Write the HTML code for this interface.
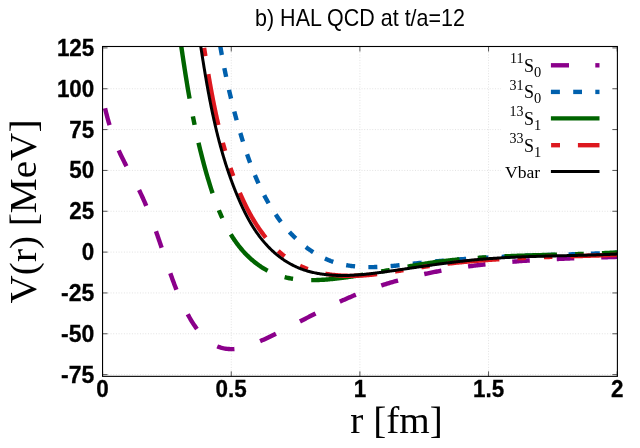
<!DOCTYPE html>
<html><head><meta charset="utf-8"><title>HAL QCD potentials</title>
<style>
html,body{margin:0;padding:0;background:#fff;}
body{width:640px;height:448px;overflow:hidden;font-family:"Liberation Sans",sans-serif;}
svg{display:block;will-change:transform;}
</style></head><body>
<svg width="640" height="448" viewBox="0 0 640 448">
<rect x="0" y="0" width="640" height="448" fill="#ffffff"/>
<defs><clipPath id="pc"><rect x="102.55" y="46.5" width="514.85" height="329.85"/></clipPath></defs>
<g stroke="#e2e2e2" stroke-width="1" stroke-dasharray="1,1.67">
<line x1="231.25" y1="46.5" x2="231.25" y2="376.35"/>
<line x1="359.9" y1="46.5" x2="359.9" y2="376.35"/>
<line x1="488.55000000000007" y1="46.5" x2="488.55000000000007" y2="376.35"/>
<line x1="102.55" y1="88.75" x2="617.4" y2="88.75"/>
<line x1="102.55" y1="129.58749999999998" x2="617.4" y2="129.58749999999998"/>
<line x1="102.55" y1="170.425" x2="617.4" y2="170.425"/>
<line x1="102.55" y1="211.2625" x2="617.4" y2="211.2625"/>
<line x1="102.55" y1="252.1" x2="617.4" y2="252.1"/>
<line x1="102.55" y1="292.9375" x2="617.4" y2="292.9375"/>
<line x1="102.55" y1="333.775" x2="617.4" y2="333.775"/>
<line x1="102.55" y1="374.6125" x2="617.4" y2="374.6125"/>
</g>
<g stroke="#555" stroke-width="1">
<line x1="102.6" y1="376.35" x2="102.6" y2="371.35"/>
<line x1="102.6" y1="46.5" x2="102.6" y2="51.5"/>
<line x1="231.25" y1="376.35" x2="231.25" y2="371.35"/>
<line x1="231.25" y1="46.5" x2="231.25" y2="51.5"/>
<line x1="359.9" y1="376.35" x2="359.9" y2="371.35"/>
<line x1="359.9" y1="46.5" x2="359.9" y2="51.5"/>
<line x1="488.55000000000007" y1="376.35" x2="488.55000000000007" y2="371.35"/>
<line x1="488.55000000000007" y1="46.5" x2="488.55000000000007" y2="51.5"/>
<line x1="617.2" y1="376.35" x2="617.2" y2="371.35"/>
<line x1="617.2" y1="46.5" x2="617.2" y2="51.5"/>
<line x1="102.55" y1="47.912499999999994" x2="107.55" y2="47.912499999999994"/>
<line x1="617.4" y1="47.912499999999994" x2="612.4" y2="47.912499999999994"/>
<line x1="102.55" y1="88.75" x2="107.55" y2="88.75"/>
<line x1="617.4" y1="88.75" x2="612.4" y2="88.75"/>
<line x1="102.55" y1="129.58749999999998" x2="107.55" y2="129.58749999999998"/>
<line x1="617.4" y1="129.58749999999998" x2="612.4" y2="129.58749999999998"/>
<line x1="102.55" y1="170.425" x2="107.55" y2="170.425"/>
<line x1="617.4" y1="170.425" x2="612.4" y2="170.425"/>
<line x1="102.55" y1="211.2625" x2="107.55" y2="211.2625"/>
<line x1="617.4" y1="211.2625" x2="612.4" y2="211.2625"/>
<line x1="102.55" y1="252.1" x2="107.55" y2="252.1"/>
<line x1="617.4" y1="252.1" x2="612.4" y2="252.1"/>
<line x1="102.55" y1="292.9375" x2="107.55" y2="292.9375"/>
<line x1="617.4" y1="292.9375" x2="612.4" y2="292.9375"/>
<line x1="102.55" y1="333.775" x2="107.55" y2="333.775"/>
<line x1="617.4" y1="333.775" x2="612.4" y2="333.775"/>
<line x1="102.55" y1="374.6125" x2="107.55" y2="374.6125"/>
<line x1="617.4" y1="374.6125" x2="612.4" y2="374.6125"/>
</g>
<g clip-path="url(#pc)" stroke-linecap="butt" stroke-linejoin="round">
<path d="M105.05,108.29 L105.32,109.39 L105.59,110.50 L105.86,111.60 L106.14,112.71 L106.42,113.81 L106.71,114.91 L106.99,116.02 L107.29,117.12 L107.58,118.22 L107.88,119.33 L108.19,120.43 L108.50,121.53 L108.81,122.63 L109.13,123.73 L109.46,124.83 L109.78,125.92 L110.12,127.02 L110.45,128.11 L110.80,129.21 L111.14,130.30 L111.50,131.39 L111.85,132.47 L112.22,133.56 L112.58,134.64 L112.96,135.73 L113.34,136.81 L113.72,137.88 L114.11,138.96 L114.51,140.03 L114.91,141.10 L115.32,142.17 L115.73,143.24 L116.15,144.30 L116.58,145.36 L117.01,146.41 L117.45,147.47 L117.90,148.52 L118.35,149.56 L118.81,150.60 L119.27,151.64 L119.74,152.68 L120.22,153.71 L120.70,154.74 L121.19,155.77 L121.69,156.79 L122.18,157.81 L122.69,158.83 L123.20,159.85 L123.71,160.86 L124.22,161.87 L124.74,162.88 L125.27,163.89 L125.79,164.90 L126.32,165.91 L126.85,166.91 L127.38,167.91 L127.92,168.92 L128.45,169.92 L128.99,170.92 L129.53,171.92 L130.07,172.92 L130.61,173.92 L131.15,174.92 L131.69,175.92 L132.23,176.92 L132.76,177.92 L133.30,178.92 L133.84,179.93 L134.37,180.93 L134.90,181.93 L135.43,182.94 L135.96,183.95 L136.48,184.96 L137.00,185.97 L137.52,186.98 L138.04,188.00 L138.55,189.01 L139.05,190.03 L139.55,191.05 L140.05,192.08 L140.54,193.11 L141.03,194.13 L141.52,195.17 L142.00,196.20 L142.47,197.24 L142.95,198.27 L143.41,199.31 L143.88,200.36 L144.34,201.40 L144.79,202.45 L145.25,203.50 L145.70,204.55 L146.14,205.60 L146.58,206.65 L147.02,207.71 L147.46,208.77 L147.89,209.82 L148.32,210.89 L148.75,211.95 L149.17,213.01 L149.59,214.08 L150.01,215.14 L150.42,216.21 L150.84,217.28 L151.25,218.35 L151.65,219.42 L152.06,220.49 L152.46,221.57 L152.86,222.64 L153.26,223.72 L153.65,224.79 L154.04,225.87 L154.43,226.95 L154.82,228.03 L155.21,229.11 L155.60,230.19 L155.98,231.27 L156.36,232.35 L156.74,233.43 L157.12,234.51 L157.50,235.59 L157.87,236.68 L158.25,237.76 L158.62,238.84 L158.99,239.93 L159.37,241.01 L159.74,242.09 L160.11,243.18 L160.47,244.26 L160.84,245.35 L161.21,246.43 L161.57,247.51 L161.94,248.60 L162.30,249.68 L162.67,250.76 L163.03,251.85 L163.40,252.93 L163.76,254.01 L164.13,255.09 L164.49,256.17 L164.85,257.25 L165.22,258.33 L165.58,259.41 L165.94,260.49 L166.31,261.56 L166.67,262.64 L167.04,263.71 L167.40,264.79 L167.77,265.86 L168.14,266.93 L168.51,268.00 L168.87,269.07 L169.24,270.14 L169.61,271.21 L169.99,272.27 L170.36,273.34 L170.73,274.40 L171.11,275.46 L171.49,276.52 L171.86,277.58 L172.24,278.64 L172.63,279.69 L173.01,280.75 L173.40,281.80 L173.79,282.86 L174.18,283.91 L174.58,284.96 L174.98,286.01 L175.38,287.06 L175.79,288.10 L176.20,289.15 L176.61,290.20 L177.03,291.24 L177.45,292.29 L177.88,293.33 L178.31,294.37 L178.75,295.41 L179.19,296.46 L179.63,297.50 L180.09,298.54 L180.54,299.58 L181.01,300.62 L181.48,301.66 L181.95,302.69 L182.43,303.73 L182.92,304.77 L183.42,305.81 L183.92,306.84 L184.43,307.88 L184.94,308.92 L185.47,309.95 L186.00,310.99 L186.54,312.03 L187.09,313.06 L187.64,314.10 L188.20,315.14 L188.78,316.17 L189.36,317.21 L189.95,318.24 L190.55,319.27 L191.15,320.29 L191.77,321.31 L192.40,322.32 L193.03,323.33 L193.68,324.33 L194.34,325.32 L195.01,326.31 L195.68,327.28 L196.37,328.24 L197.07,329.19 L197.78,330.13 L198.51,331.06 L199.24,331.97 L199.98,332.87 L200.74,333.75 L201.51,334.61 L202.29,335.46 L203.09,336.29 L203.89,337.10 L204.71,337.89 L205.54,338.67 L206.39,339.41 L207.25,340.14 L208.12,340.85 L209.01,341.53 L209.91,342.18 L210.82,342.81 L211.75,343.42 L212.69,343.99 L213.65,344.54 L214.62,345.06 L215.61,345.55 L216.61,346.01 L217.63,346.44 L218.66,346.84 L219.71,347.20 L220.77,347.53 L221.84,347.83 L222.93,348.10 L224.02,348.34 L225.12,348.54 L226.23,348.72 L227.35,348.86 L228.47,348.97 L229.60,349.05 L230.73,349.09 L231.86,349.11 L232.99,349.09 L234.12,349.04 L235.25,348.96 L236.38,348.84 L237.50,348.70 L238.63,348.53 L239.75,348.33 L240.87,348.11 L241.98,347.86 L243.09,347.59 L244.20,347.29 L245.31,346.98 L246.42,346.64 L247.52,346.29 L248.62,345.92 L249.71,345.53 L250.80,345.13 L251.89,344.71 L252.98,344.29 L254.06,343.85 L255.14,343.40 L256.21,342.95 L257.28,342.48 L258.35,342.02 L259.41,341.54 L260.47,341.07 L261.52,340.59 L262.57,340.11 L263.61,339.63 L264.66,339.14 L265.69,338.66 L266.73,338.17 L267.76,337.68 L268.79,337.19 L269.82,336.69 L270.85,336.20 L271.87,335.70 L272.90,335.20 L273.92,334.70 L274.94,334.20 L275.96,333.69 L276.98,333.19 L278.00,332.68 L279.02,332.17 L280.03,331.66 L281.05,331.15 L282.07,330.64 L283.08,330.13 L284.10,329.61 L285.12,329.10 L286.13,328.58 L287.15,328.06 L288.16,327.54 L289.18,327.02 L290.19,326.51 L291.21,325.98 L292.22,325.46 L293.23,324.94 L294.25,324.42 L295.26,323.90 L296.27,323.38 L297.29,322.85 L298.30,322.33 L299.32,321.81 L300.33,321.28 L301.34,320.76 L302.36,320.24 L303.37,319.71 L304.39,319.19 L305.40,318.67 L306.42,318.14 L307.43,317.62 L308.45,317.10 L309.46,316.58 L310.48,316.06 L311.49,315.54 L312.51,315.02 L313.53,314.50 L314.54,313.99 L315.56,313.47 L316.58,312.95 L317.60,312.44 L318.62,311.93 L319.63,311.41 L320.65,310.90 L321.68,310.39 L322.70,309.88 L323.72,309.38 L324.74,308.87 L325.76,308.37 L326.79,307.87 L327.81,307.37 L328.84,306.87 L329.86,306.37 L330.89,305.87 L331.92,305.38 L332.95,304.89 L333.98,304.40 L335.01,303.91 L336.04,303.43 L337.07,302.95 L338.10,302.47 L339.14,301.99 L340.17,301.51 L341.21,301.04 L342.25,300.57 L343.29,300.10 L344.33,299.64 L345.37,299.18 L346.41,298.72 L347.45,298.26 L348.50,297.81 L349.54,297.36 L350.59,296.91 L351.64,296.47 L352.69,296.03 L353.74,295.59 L354.79,295.15 L355.84,294.72 L356.90,294.30 L357.96,293.87 L359.01,293.45 L360.07,293.04 L361.13,292.62 L362.20,292.21 L363.26,291.81 L364.32,291.40 L365.39,291.00 L366.46,290.61 L367.53,290.21 L368.60,289.83 L369.67,289.44 L370.74,289.06 L371.82,288.68 L372.89,288.30 L373.97,287.93 L375.04,287.56 L376.12,287.19 L377.20,286.83 L378.28,286.47 L379.37,286.11 L380.45,285.76 L381.53,285.40 L382.62,285.06 L383.71,284.71 L384.79,284.37 L385.88,284.03 L386.97,283.70 L388.06,283.37 L389.15,283.04 L390.25,282.71 L391.34,282.39 L392.44,282.07 L393.53,281.75 L394.63,281.43 L395.73,281.12 L396.82,280.81 L397.92,280.51 L399.02,280.21 L400.12,279.91 L401.23,279.61 L402.33,279.32 L403.43,279.02 L404.54,278.74 L405.64,278.45 L406.75,278.17 L407.86,277.89 L408.96,277.61 L410.07,277.34 L411.18,277.06 L412.29,276.79 L413.40,276.53 L414.51,276.26 L415.62,276.00 L416.73,275.74 L417.85,275.49 L418.96,275.23 L420.07,274.98 L421.19,274.73 L422.30,274.49 L423.42,274.25 L424.54,274.00 L425.65,273.77 L426.77,273.53 L427.89,273.30 L429.01,273.07 L430.13,272.84 L431.25,272.61 L432.37,272.39 L433.49,272.17 L434.61,271.95 L435.73,271.73 L436.85,271.52 L437.97,271.31 L439.09,271.10 L440.21,270.89 L441.34,270.69 L442.46,270.48 L443.58,270.28 L444.71,270.08 L445.83,269.89 L446.96,269.69 L448.08,269.50 L449.20,269.31 L450.33,269.13 L451.46,268.94 L452.58,268.76 L453.71,268.58 L454.83,268.40 L455.96,268.22 L457.09,268.05 L458.21,267.88 L459.34,267.70 L460.47,267.54 L461.60,267.37 L462.72,267.20 L463.85,267.04 L464.98,266.88 L466.11,266.72 L467.24,266.57 L468.37,266.41 L469.50,266.26 L470.63,266.11 L471.76,265.96 L472.89,265.81 L474.02,265.67 L475.15,265.52 L476.28,265.38 L477.41,265.24 L478.54,265.10 L479.68,264.97 L480.81,264.83 L481.94,264.70 L483.07,264.57 L484.20,264.44 L485.34,264.31 L486.47,264.18 L487.60,264.06 L488.74,263.93 L489.87,263.81 L491.00,263.69 L492.14,263.58 L493.27,263.46 L494.41,263.34 L495.54,263.23 L496.67,263.12 L497.81,263.01 L498.94,262.90 L500.08,262.79 L501.21,262.69 L502.35,262.58 L503.49,262.48 L504.62,262.38 L505.76,262.28 L506.89,262.18 L508.03,262.08 L509.17,261.98 L510.30,261.89 L511.44,261.80 L512.58,261.70 L513.71,261.61 L514.85,261.52 L515.99,261.44 L517.12,261.35 L518.26,261.26 L519.40,261.18 L520.54,261.10 L521.68,261.01 L522.81,260.93 L523.95,260.85 L525.09,260.77 L526.23,260.70 L527.37,260.62 L528.50,260.55 L529.64,260.47 L530.78,260.40 L531.92,260.33 L533.06,260.26 L534.20,260.19 L535.34,260.12 L536.48,260.05 L537.62,259.98 L538.76,259.92 L539.89,259.85 L541.03,259.79 L542.17,259.73 L543.31,259.66 L544.45,259.60 L545.59,259.54 L546.73,259.48 L547.87,259.42 L549.01,259.37 L550.15,259.31 L551.29,259.25 L552.43,259.20 L553.57,259.14 L554.71,259.09 L555.85,259.04 L556.99,258.98 L558.13,258.93 L559.27,258.88 L560.41,258.83 L561.55,258.78 L562.69,258.73 L563.83,258.69 L564.97,258.64 L566.11,258.59 L567.25,258.54 L568.39,258.50 L569.53,258.45 L570.67,258.41 L571.81,258.36 L572.96,258.32 L574.10,258.28 L575.24,258.23 L576.38,258.19 L577.52,258.15 L578.66,258.11 L579.80,258.07 L580.94,258.03 L582.08,257.99 L583.22,257.95 L584.36,257.91 L585.50,257.87 L586.64,257.83 L587.78,257.79 L588.92,257.76 L590.06,257.72 L591.20,257.68 L592.34,257.64 L593.48,257.61 L594.62,257.57 L595.76,257.53 L596.89,257.50 L598.03,257.46 L599.17,257.43 L600.31,257.39 L601.45,257.35 L602.59,257.32 L603.73,257.28 L604.87,257.25 L606.01,257.21 L607.15,257.18 L608.29,257.14 L609.42,257.11 L610.56,257.07 L611.70,257.04 L612.84,257.00 L613.98,256.97 L615.12,256.93 L616.25,256.90 L617.39,256.86" fill="none" stroke="#8b008b" stroke-width="4.4" stroke-dasharray="17.5,27" stroke-dashoffset="0.11"/>
<path d="M217.58,29.81 L217.73,30.74 L217.87,31.68 L218.02,32.61 L218.17,33.54 L218.32,34.47 L218.47,35.39 L218.62,36.32 L218.77,37.25 L218.92,38.18 L219.07,39.10 L219.22,40.03 L219.38,40.95 L219.53,41.88 L219.69,42.80 L219.85,43.72 L220.00,44.64 L220.16,45.57 L220.32,46.49 L220.48,47.41 L220.64,48.33 L220.80,49.25 L220.97,50.16 L221.13,51.08 L221.29,52.00 L221.46,52.92 L221.62,53.83 L221.79,54.75 L221.96,55.66 L222.13,56.58 L222.30,57.49 L222.47,58.41 L222.64,59.32 L222.81,60.23 L222.98,61.14 L223.16,62.06 L223.33,62.97 L223.51,63.88 L223.69,64.79 L223.86,65.70 L224.04,66.61 L224.22,67.51 L224.40,68.42 L224.58,69.33 L224.77,70.24 L224.95,71.14 L225.14,72.05 L225.32,72.96 L225.51,73.86 L225.70,74.77 L225.88,75.67 L226.07,76.57 L226.26,77.48 L226.46,78.38 L226.65,79.28 L226.84,80.19 L227.04,81.09 L227.23,81.99 L227.43,82.89 L227.63,83.79 L227.83,84.69 L228.03,85.59 L228.23,86.49 L228.43,87.39 L228.63,88.29 L228.84,89.19 L229.04,90.09 L229.25,90.99 L229.46,91.89 L229.67,92.78 L229.88,93.68 L230.09,94.58 L230.30,95.47 L230.51,96.37 L230.73,97.27 L230.94,98.16 L231.16,99.06 L231.38,99.95 L231.60,100.85 L231.82,101.74 L232.04,102.64 L232.26,103.53 L232.48,104.42 L232.71,105.32 L232.94,106.21 L233.16,107.11 L233.39,108.00 L233.62,108.89 L233.85,109.78 L234.08,110.68 L234.32,111.57 L234.55,112.46 L234.79,113.35 L235.03,114.24 L235.26,115.14 L235.50,116.03 L235.74,116.92 L235.99,117.81 L236.23,118.70 L236.48,119.59 L236.72,120.48 L236.97,121.37 L237.22,122.26 L237.47,123.15 L237.72,124.04 L237.97,124.93 L238.22,125.82 L238.48,126.71 L238.74,127.60 L238.99,128.49 L239.25,129.38 L239.51,130.27 L239.78,131.16 L240.04,132.05 L240.30,132.94 L240.57,133.82 L240.84,134.71 L241.11,135.60 L241.38,136.49 L241.65,137.38 L241.92,138.27 L242.19,139.16 L242.47,140.05 L242.75,140.94 L243.03,141.82 L243.31,142.71 L243.59,143.60 L243.87,144.49 L244.15,145.38 L244.44,146.27 L244.73,147.16 L245.02,148.04 L245.31,148.93 L245.60,149.82 L245.90,150.71 L246.19,151.59 L246.49,152.48 L246.79,153.36 L247.09,154.25 L247.39,155.13 L247.70,156.02 L248.01,156.90 L248.32,157.79 L248.63,158.67 L248.94,159.55 L249.26,160.43 L249.57,161.31 L249.89,162.19 L250.21,163.07 L250.54,163.95 L250.86,164.83 L251.19,165.70 L251.52,166.58 L251.86,167.45 L252.19,168.32 L252.53,169.20 L252.87,170.07 L253.21,170.94 L253.56,171.81 L253.91,172.68 L254.26,173.54 L254.61,174.41 L254.96,175.27 L255.32,176.13 L255.68,177.00 L256.05,177.86 L256.41,178.71 L256.78,179.57 L257.15,180.43 L257.53,181.28 L257.90,182.13 L258.28,182.99 L258.67,183.84 L259.05,184.68 L259.44,185.53 L259.83,186.37 L260.23,187.22 L260.63,188.06 L261.03,188.90 L261.43,189.73 L261.84,190.57 L262.25,191.40 L262.67,192.23 L263.08,193.06 L263.50,193.89 L263.93,194.72 L264.35,195.54 L264.79,196.36 L265.22,197.18 L265.66,198.00 L266.10,198.81 L266.54,199.63 L266.99,200.44 L267.44,201.24 L267.90,202.05 L268.36,202.85 L268.82,203.65 L269.28,204.45 L269.75,205.25 L270.23,206.04 L270.71,206.83 L271.19,207.62 L271.67,208.41 L272.16,209.19 L272.65,209.97 L273.15,210.75 L273.65,211.52 L274.16,212.30 L274.67,213.06 L275.18,213.83 L275.70,214.59 L276.22,215.35 L276.74,216.11 L277.27,216.87 L277.81,217.62 L278.34,218.37 L278.89,219.11 L279.43,219.86 L279.98,220.59 L280.54,221.33 L281.10,222.06 L281.66,222.79 L282.23,223.52 L282.81,224.24 L283.38,224.96 L283.97,225.68 L284.55,226.39 L285.15,227.10 L285.74,227.81 L286.34,228.51 L286.95,229.21 L287.56,229.90 L288.17,230.59 L288.80,231.28 L289.42,231.97 L290.05,232.65 L290.68,233.32 L291.32,234.00 L291.97,234.66 L292.62,235.33 L293.27,235.99 L293.93,236.65 L294.59,237.30 L295.26,237.94 L295.94,238.58 L296.61,239.22 L297.29,239.85 L297.98,240.48 L298.67,241.10 L299.37,241.72 L300.07,242.33 L300.77,242.94 L301.48,243.54 L302.20,244.13 L302.92,244.72 L303.64,245.31 L304.37,245.89 L305.10,246.46 L305.83,247.02 L306.57,247.58 L307.32,248.14 L308.07,248.68 L308.82,249.22 L309.58,249.76 L310.34,250.28 L311.11,250.80 L311.88,251.31 L312.65,251.82 L313.43,252.32 L314.21,252.81 L315.00,253.29 L315.79,253.77 L316.58,254.24 L317.38,254.70 L318.19,255.16 L318.99,255.60 L319.80,256.04 L320.62,256.47 L321.44,256.89 L322.26,257.30 L323.09,257.71 L323.92,258.11 L324.75,258.49 L325.59,258.87 L326.44,259.24 L327.28,259.60 L328.13,259.96 L328.98,260.30 L329.84,260.63 L330.70,260.96 L331.57,261.27 L332.44,261.58 L333.31,261.88 L334.19,262.16 L335.06,262.44 L335.95,262.71 L336.83,262.97 L337.72,263.22 L338.61,263.46 L339.51,263.69 L340.41,263.92 L341.31,264.13 L342.21,264.34 L343.12,264.53 L344.03,264.72 L344.94,264.91 L345.85,265.08 L346.76,265.24 L347.68,265.40 L348.60,265.55 L349.52,265.69 L350.45,265.83 L351.37,265.96 L352.30,266.08 L353.22,266.19 L354.15,266.30 L355.08,266.40 L356.01,266.49 L356.95,266.57 L357.88,266.65 L358.81,266.72 L359.75,266.79 L360.68,266.85 L361.62,266.90 L362.56,266.95 L363.49,266.99 L364.43,267.03 L365.37,267.06 L366.31,267.08 L367.24,267.10 L368.18,267.12 L369.12,267.12 L370.06,267.13 L370.99,267.13 L371.93,267.12 L372.86,267.11 L373.80,267.09 L374.73,267.07 L375.66,267.04 L376.60,267.02 L377.53,266.98 L378.46,266.94 L379.39,266.90 L380.32,266.86 L381.25,266.81 L382.18,266.75 L383.11,266.70 L384.04,266.64 L384.97,266.57 L385.90,266.51 L386.83,266.44 L387.75,266.36 L388.68,266.29 L389.61,266.21 L390.53,266.13 L391.46,266.05 L392.39,265.96 L393.31,265.88 L394.24,265.79 L395.16,265.69 L396.09,265.60 L397.01,265.51 L397.93,265.41 L398.86,265.31 L399.78,265.21 L400.71,265.11 L401.63,265.01 L402.55,264.91 L403.47,264.80 L404.40,264.70 L405.32,264.59 L406.24,264.49 L407.17,264.38 L408.09,264.27 L409.01,264.17 L409.93,264.06 L410.85,263.95 L411.78,263.85 L412.70,263.74 L413.62,263.64 L414.54,263.53 L415.47,263.43 L416.39,263.32 L417.31,263.22 L418.23,263.12 L419.16,263.02 L420.08,262.92 L421.00,262.82 L421.92,262.72 L422.85,262.62 L423.77,262.52 L424.69,262.43 L425.61,262.33 L426.54,262.24 L427.46,262.14 L428.38,262.05 L429.31,261.96 L430.23,261.87 L431.15,261.78 L432.08,261.69 L433.00,261.60 L433.92,261.51 L434.85,261.42 L435.77,261.34 L436.69,261.25 L437.62,261.17 L438.54,261.08 L439.46,261.00 L440.39,260.92 L441.31,260.83 L442.24,260.75 L443.16,260.67 L444.08,260.59 L445.01,260.52 L445.93,260.44 L446.86,260.36 L447.78,260.28 L448.70,260.21 L449.63,260.13 L450.55,260.06 L451.48,259.98 L452.40,259.91 L453.33,259.84 L454.25,259.77 L455.18,259.69 L456.10,259.62 L457.02,259.55 L457.95,259.49 L458.87,259.42 L459.80,259.35 L460.72,259.28 L461.65,259.22 L462.57,259.15 L463.50,259.08 L464.42,259.02 L465.35,258.96 L466.27,258.89 L467.20,258.83 L468.12,258.77 L469.05,258.70 L469.97,258.64 L470.90,258.58 L471.82,258.52 L472.75,258.46 L473.68,258.40 L474.60,258.35 L475.53,258.29 L476.45,258.23 L477.38,258.18 L478.30,258.12 L479.23,258.06 L480.15,258.01 L481.08,257.95 L482.01,257.90 L482.93,257.85 L483.86,257.79 L484.78,257.74 L485.71,257.69 L486.64,257.64 L487.56,257.59 L488.49,257.54 L489.41,257.49 L490.34,257.44 L491.27,257.39 L492.19,257.34 L493.12,257.29 L494.04,257.24 L494.97,257.20 L495.90,257.15 L496.82,257.10 L497.75,257.06 L498.68,257.01 L499.60,256.97 L500.53,256.92 L501.46,256.88 L502.38,256.83 L503.31,256.79 L504.24,256.75 L505.16,256.70 L506.09,256.66 L507.02,256.62 L507.94,256.58 L508.87,256.54 L509.80,256.50 L510.72,256.46 L511.65,256.42 L512.58,256.38 L513.50,256.34 L514.43,256.30 L515.36,256.26 L516.28,256.22 L517.21,256.18 L518.14,256.14 L519.06,256.11 L519.99,256.07 L520.92,256.03 L521.85,256.00 L522.77,255.96 L523.70,255.92 L524.63,255.89 L525.55,255.85 L526.48,255.82 L527.41,255.78 L528.34,255.75 L529.26,255.71 L530.19,255.68 L531.12,255.64 L532.05,255.61 L532.97,255.58 L533.90,255.54 L534.83,255.51 L535.76,255.48 L536.68,255.45 L537.61,255.41 L538.54,255.38 L539.47,255.35 L540.39,255.32 L541.32,255.28 L542.25,255.25 L543.18,255.22 L544.10,255.19 L545.03,255.16 L545.96,255.13 L546.89,255.10 L547.81,255.07 L548.74,255.04 L549.67,255.01 L550.60,254.98 L551.52,254.95 L552.45,254.92 L553.38,254.89 L554.31,254.86 L555.24,254.83 L556.16,254.80 L557.09,254.77 L558.02,254.74 L558.95,254.71 L559.88,254.68 L560.80,254.65 L561.73,254.62 L562.66,254.59 L563.59,254.56 L564.51,254.53 L565.44,254.51 L566.37,254.48 L567.30,254.45 L568.23,254.42 L569.15,254.39 L570.08,254.36 L571.01,254.33 L571.94,254.30 L572.87,254.28 L573.79,254.25 L574.72,254.22 L575.65,254.19 L576.58,254.16 L577.51,254.13 L578.43,254.10 L579.36,254.07 L580.29,254.05 L581.22,254.02 L582.15,253.99 L583.07,253.96 L584.00,253.93 L584.93,253.90 L585.86,253.87 L586.79,253.84 L587.71,253.81 L588.64,253.78 L589.57,253.75 L590.50,253.72 L591.43,253.69 L592.35,253.66 L593.28,253.63 L594.21,253.60 L595.14,253.57 L596.07,253.54 L596.99,253.51 L597.92,253.48 L598.85,253.45 L599.78,253.42 L600.71,253.39 L601.64,253.36 L602.56,253.32 L603.49,253.29 L604.42,253.26 L605.35,253.23 L606.28,253.20 L607.20,253.16 L608.13,253.13 L609.06,253.10 L609.99,253.07 L610.92,253.03 L611.84,253.00 L612.77,252.97 L613.70,252.93 L614.63,252.90 L615.56,252.86 L616.48,252.83 L617.41,252.79" fill="none" stroke="#0060ad" stroke-width="4.4" stroke-dasharray="9,13.3" stroke-dashoffset="5.75"/>
<path d="M178.95,30.00 L179.09,31.02 L179.23,32.04 L179.38,33.06 L179.52,34.08 L179.67,35.10 L179.81,36.11 L179.96,37.13 L180.10,38.15 L180.25,39.17 L180.40,40.19 L180.54,41.21 L180.69,42.23 L180.84,43.25 L180.98,44.27 L181.13,45.28 L181.28,46.30 L181.43,47.32 L181.57,48.34 L181.72,49.36 L181.87,50.38 L182.02,51.40 L182.17,52.42 L182.32,53.44 L182.47,54.46 L182.62,55.47 L182.77,56.49 L182.93,57.51 L183.08,58.53 L183.23,59.55 L183.38,60.57 L183.54,61.59 L183.69,62.61 L183.85,63.63 L184.00,64.64 L184.16,65.66 L184.31,66.68 L184.47,67.70 L184.63,68.72 L184.79,69.74 L184.95,70.76 L185.11,71.77 L185.27,72.79 L185.43,73.81 L185.59,74.83 L185.75,75.85 L185.91,76.86 L186.08,77.88 L186.24,78.90 L186.40,79.92 L186.57,80.93 L186.74,81.95 L186.90,82.97 L187.07,83.99 L187.24,85.00 L187.41,86.02 L187.58,87.04 L187.75,88.05 L187.92,89.07 L188.09,90.09 L188.27,91.10 L188.44,92.12 L188.62,93.13 L188.79,94.15 L188.97,95.17 L189.15,96.18 L189.33,97.20 L189.51,98.21 L189.69,99.23 L189.87,100.24 L190.05,101.25 L190.23,102.27 L190.42,103.28 L190.60,104.30 L190.79,105.31 L190.98,106.32 L191.17,107.34 L191.35,108.35 L191.55,109.36 L191.74,110.38 L191.93,111.39 L192.12,112.40 L192.32,113.41 L192.51,114.42 L192.71,115.44 L192.91,116.45 L193.11,117.46 L193.31,118.47 L193.51,119.48 L193.71,120.49 L193.92,121.50 L194.12,122.51 L194.33,123.52 L194.54,124.53 L194.75,125.54 L194.96,126.54 L195.17,127.55 L195.38,128.56 L195.60,129.57 L195.81,130.58 L196.03,131.58 L196.25,132.59 L196.47,133.60 L196.69,134.60 L196.91,135.61 L197.13,136.61 L197.36,137.62 L197.58,138.62 L197.81,139.63 L198.04,140.63 L198.27,141.64 L198.50,142.64 L198.74,143.64 L198.97,144.65 L199.21,145.65 L199.45,146.65 L199.69,147.65 L199.93,148.65 L200.17,149.65 L200.41,150.65 L200.66,151.65 L200.91,152.65 L201.16,153.65 L201.41,154.65 L201.66,155.65 L201.91,156.65 L202.17,157.65 L202.42,158.64 L202.68,159.64 L202.94,160.64 L203.21,161.63 L203.47,162.63 L203.73,163.63 L204.00,164.62 L204.27,165.62 L204.54,166.61 L204.81,167.60 L205.09,168.60 L205.36,169.59 L205.64,170.58 L205.92,171.57 L206.20,172.56 L206.48,173.55 L206.77,174.54 L207.06,175.53 L207.34,176.52 L207.63,177.51 L207.93,178.50 L208.22,179.49 L208.52,180.48 L208.82,181.46 L209.12,182.45 L209.42,183.44 L209.72,184.42 L210.03,185.41 L210.34,186.39 L210.65,187.37 L210.96,188.35 L211.28,189.33 L211.60,190.32 L211.92,191.29 L212.24,192.27 L212.57,193.25 L212.90,194.23 L213.23,195.20 L213.57,196.17 L213.91,197.15 L214.25,198.12 L214.60,199.09 L214.95,200.06 L215.30,201.02 L215.65,201.99 L216.01,202.95 L216.38,203.92 L216.74,204.88 L217.11,205.84 L217.49,206.79 L217.87,207.75 L218.25,208.70 L218.63,209.66 L219.02,210.61 L219.42,211.56 L219.82,212.50 L220.22,213.45 L220.62,214.39 L221.04,215.33 L221.45,216.27 L221.87,217.20 L222.30,218.14 L222.73,219.07 L223.16,220.00 L223.60,220.93 L224.05,221.85 L224.50,222.77 L224.95,223.69 L225.41,224.61 L225.88,225.52 L226.35,226.43 L226.83,227.34 L227.32,228.24 L227.81,229.15 L228.30,230.04 L228.81,230.94 L229.31,231.83 L229.83,232.71 L230.35,233.60 L230.88,234.48 L231.42,235.35 L231.96,236.22 L232.51,237.09 L233.07,237.95 L233.64,238.81 L234.21,239.67 L234.79,240.52 L235.38,241.36 L235.97,242.20 L236.58,243.04 L237.19,243.87 L237.81,244.69 L238.44,245.52 L239.08,246.33 L239.73,247.14 L240.38,247.95 L241.05,248.75 L241.72,249.54 L242.40,250.33 L243.09,251.11 L243.80,251.89 L244.51,252.66 L245.23,253.43 L245.96,254.18 L246.70,254.94 L247.44,255.68 L248.20,256.42 L248.96,257.15 L249.74,257.87 L250.52,258.58 L251.31,259.29 L252.10,259.98 L252.91,260.67 L253.72,261.35 L254.54,262.02 L255.36,262.67 L256.20,263.32 L257.04,263.96 L257.88,264.59 L258.73,265.20 L259.59,265.80 L260.46,266.40 L261.33,266.98 L262.21,267.54 L263.09,268.10 L263.97,268.64 L264.87,269.17 L265.76,269.68 L266.66,270.19 L267.57,270.67 L268.48,271.15 L269.40,271.60 L270.32,272.05 L271.24,272.48 L272.17,272.89 L273.10,273.30 L274.03,273.69 L274.97,274.06 L275.92,274.43 L276.86,274.78 L277.81,275.11 L278.77,275.44 L279.73,275.75 L280.69,276.05 L281.65,276.33 L282.62,276.61 L283.59,276.87 L284.56,277.13 L285.54,277.37 L286.52,277.59 L287.50,277.81 L288.49,278.02 L289.48,278.22 L290.47,278.40 L291.46,278.58 L292.46,278.74 L293.46,278.90 L294.46,279.04 L295.46,279.18 L296.47,279.30 L297.48,279.42 L298.49,279.52 L299.50,279.62 L300.51,279.71 L301.53,279.79 L302.54,279.86 L303.56,279.92 L304.59,279.98 L305.61,280.02 L306.63,280.06 L307.66,280.09 L308.68,280.12 L309.71,280.13 L310.74,280.14 L311.77,280.14 L312.80,280.14 L313.84,280.13 L314.87,280.11 L315.90,280.08 L316.94,280.05 L317.97,280.01 L319.01,279.97 L320.05,279.92 L321.08,279.87 L322.12,279.81 L323.16,279.75 L324.20,279.68 L325.24,279.60 L326.27,279.52 L327.31,279.44 L328.35,279.35 L329.39,279.26 L330.43,279.16 L331.47,279.06 L332.50,278.96 L333.54,278.85 L334.58,278.74 L335.61,278.63 L336.65,278.51 L337.68,278.39 L338.72,278.27 L339.75,278.14 L340.78,278.02 L341.81,277.89 L342.85,277.75 L343.88,277.62 L344.91,277.48 L345.93,277.34 L346.96,277.20 L347.99,277.06 L349.02,276.91 L350.04,276.77 L351.07,276.62 L352.09,276.46 L353.12,276.31 L354.14,276.15 L355.17,276.00 L356.19,275.84 L357.21,275.68 L358.23,275.51 L359.25,275.35 L360.28,275.18 L361.30,275.01 L362.32,274.85 L363.33,274.68 L364.35,274.50 L365.37,274.33 L366.39,274.16 L367.41,273.98 L368.43,273.80 L369.44,273.63 L370.46,273.45 L371.47,273.27 L372.49,273.09 L373.51,272.90 L374.52,272.72 L375.53,272.54 L376.55,272.35 L377.56,272.17 L378.58,271.98 L379.59,271.80 L380.60,271.61 L381.62,271.42 L382.63,271.24 L383.64,271.05 L384.65,270.86 L385.67,270.67 L386.68,270.48 L387.69,270.29 L388.70,270.10 L389.71,269.92 L390.73,269.73 L391.74,269.54 L392.75,269.35 L393.76,269.16 L394.77,268.97 L395.78,268.78 L396.79,268.59 L397.80,268.40 L398.81,268.22 L399.82,268.03 L400.83,267.84 L401.85,267.66 L402.86,267.47 L403.87,267.29 L404.88,267.10 L405.89,266.92 L406.90,266.74 L407.91,266.56 L408.92,266.37 L409.93,266.19 L410.94,266.02 L411.95,265.84 L412.97,265.66 L413.98,265.49 L414.99,265.31 L416.00,265.14 L417.01,264.97 L418.03,264.80 L419.04,264.63 L420.05,264.46 L421.06,264.29 L422.08,264.13 L423.09,263.97 L424.11,263.81 L425.12,263.65 L426.13,263.49 L427.15,263.33 L428.16,263.18 L429.18,263.03 L430.20,262.88 L431.21,262.73 L432.23,262.58 L433.24,262.44 L434.26,262.30 L435.28,262.16 L436.30,262.02 L437.31,261.88 L438.33,261.75 L439.35,261.62 L440.37,261.49 L441.39,261.36 L442.41,261.23 L443.43,261.11 L444.45,260.98 L445.47,260.86 L446.49,260.74 L447.51,260.63 L448.54,260.51 L449.56,260.40 L450.58,260.28 L451.60,260.17 L452.62,260.06 L453.65,259.96 L454.67,259.85 L455.69,259.75 L456.72,259.64 L457.74,259.54 L458.77,259.44 L459.79,259.34 L460.82,259.25 L461.84,259.15 L462.87,259.06 L463.89,258.97 L464.92,258.88 L465.94,258.79 L466.97,258.70 L468.00,258.62 L469.02,258.53 L470.05,258.45 L471.08,258.37 L472.10,258.29 L473.13,258.21 L474.16,258.13 L475.19,258.05 L476.21,257.98 L477.24,257.90 L478.27,257.83 L479.30,257.76 L480.33,257.69 L481.36,257.62 L482.39,257.55 L483.42,257.48 L484.45,257.42 L485.48,257.35 L486.51,257.29 L487.54,257.23 L488.57,257.17 L489.60,257.11 L490.63,257.05 L491.66,256.99 L492.69,256.93 L493.72,256.88 L494.75,256.82 L495.78,256.77 L496.81,256.71 L497.84,256.66 L498.87,256.61 L499.91,256.56 L500.94,256.51 L501.97,256.46 L503.00,256.41 L504.03,256.37 L505.07,256.32 L506.10,256.28 L507.13,256.23 L508.16,256.19 L509.19,256.14 L510.23,256.10 L511.26,256.06 L512.29,256.02 L513.32,255.98 L514.36,255.94 L515.39,255.90 L516.42,255.86 L517.46,255.82 L518.49,255.79 L519.52,255.75 L520.55,255.72 L521.59,255.68 L522.62,255.64 L523.65,255.61 L524.69,255.58 L525.72,255.54 L526.75,255.51 L527.79,255.48 L528.82,255.45 L529.85,255.41 L530.89,255.38 L531.92,255.35 L532.95,255.32 L533.99,255.29 L535.02,255.26 L536.05,255.23 L537.09,255.20 L538.12,255.17 L539.15,255.14 L540.18,255.11 L541.22,255.09 L542.25,255.06 L543.28,255.03 L544.32,255.00 L545.35,254.97 L546.38,254.95 L547.41,254.92 L548.45,254.89 L549.48,254.87 L550.51,254.84 L551.55,254.81 L552.58,254.78 L553.61,254.76 L554.64,254.73 L555.67,254.70 L556.71,254.68 L557.74,254.65 L558.77,254.62 L559.80,254.59 L560.83,254.57 L561.87,254.54 L562.90,254.51 L563.93,254.48 L564.96,254.46 L565.99,254.43 L567.02,254.40 L568.05,254.37 L569.08,254.34 L570.11,254.31 L571.14,254.28 L572.17,254.25 L573.20,254.22 L574.23,254.19 L575.26,254.16 L576.29,254.13 L577.32,254.10 L578.35,254.07 L579.38,254.04 L580.41,254.00 L581.44,253.97 L582.47,253.94 L583.50,253.90 L584.53,253.87 L585.55,253.83 L586.58,253.80 L587.61,253.76 L588.64,253.73 L589.66,253.69 L590.69,253.65 L591.72,253.61 L592.74,253.57 L593.77,253.54 L594.80,253.49 L595.82,253.45 L596.85,253.41 L597.87,253.37 L598.90,253.33 L599.92,253.28 L600.95,253.24 L601.97,253.19 L603.00,253.15 L604.02,253.10 L605.05,253.05 L606.07,253.00 L607.09,252.95 L608.12,252.90 L609.14,252.85 L610.16,252.80 L611.18,252.75 L612.21,252.69 L613.23,252.64 L614.25,252.58 L615.27,252.53 L616.29,252.47 L617.31,252.41" fill="none" stroke="#006400" stroke-width="4.4" stroke-dasharray="52.5,18.2,8.6,18.2" stroke-dashoffset="80.64"/>
<path d="M201.38,29.94 L201.53,30.90 L201.67,31.87 L201.82,32.84 L201.97,33.81 L202.11,34.78 L202.26,35.75 L202.41,36.72 L202.55,37.68 L202.70,38.65 L202.85,39.62 L203.00,40.59 L203.14,41.56 L203.29,42.52 L203.44,43.49 L203.59,44.46 L203.73,45.43 L203.88,46.40 L204.03,47.36 L204.18,48.33 L204.33,49.30 L204.48,50.26 L204.63,51.23 L204.78,52.20 L204.93,53.16 L205.08,54.13 L205.23,55.10 L205.38,56.06 L205.54,57.03 L205.69,58.00 L205.84,58.96 L205.99,59.93 L206.15,60.89 L206.30,61.86 L206.46,62.82 L206.61,63.79 L206.77,64.75 L206.92,65.72 L207.08,66.68 L207.24,67.65 L207.40,68.61 L207.56,69.57 L207.72,70.54 L207.88,71.50 L208.04,72.46 L208.20,73.43 L208.36,74.39 L208.52,75.35 L208.69,76.32 L208.85,77.28 L209.01,78.24 L209.18,79.20 L209.35,80.16 L209.51,81.13 L209.68,82.09 L209.85,83.05 L210.02,84.01 L210.19,84.97 L210.36,85.93 L210.54,86.89 L210.71,87.85 L210.88,88.81 L211.06,89.77 L211.23,90.73 L211.41,91.68 L211.59,92.64 L211.77,93.60 L211.95,94.56 L212.13,95.52 L212.31,96.47 L212.50,97.43 L212.68,98.39 L212.87,99.34 L213.05,100.30 L213.24,101.26 L213.43,102.21 L213.62,103.17 L213.81,104.12 L214.00,105.08 L214.20,106.03 L214.39,106.98 L214.59,107.94 L214.79,108.89 L214.99,109.84 L215.19,110.80 L215.39,111.75 L215.59,112.70 L215.79,113.65 L216.00,114.60 L216.21,115.55 L216.42,116.50 L216.62,117.45 L216.84,118.40 L217.05,119.35 L217.26,120.30 L217.48,121.25 L217.70,122.20 L217.91,123.15 L218.13,124.09 L218.36,125.04 L218.58,125.99 L218.80,126.93 L219.03,127.88 L219.26,128.83 L219.49,129.77 L219.72,130.72 L219.95,131.66 L220.19,132.60 L220.42,133.55 L220.66,134.49 L220.90,135.43 L221.14,136.38 L221.39,137.32 L221.63,138.26 L221.88,139.20 L222.13,140.14 L222.38,141.08 L222.63,142.02 L222.88,142.96 L223.14,143.90 L223.40,144.84 L223.66,145.77 L223.92,146.71 L224.18,147.65 L224.45,148.58 L224.71,149.52 L224.98,150.45 L225.25,151.39 L225.53,152.32 L225.80,153.26 L226.08,154.19 L226.36,155.12 L226.64,156.06 L226.93,156.99 L227.21,157.92 L227.50,158.85 L227.79,159.78 L228.08,160.71 L228.38,161.64 L228.67,162.57 L228.97,163.50 L229.27,164.42 L229.58,165.35 L229.88,166.28 L230.19,167.20 L230.50,168.13 L230.81,169.05 L231.13,169.98 L231.44,170.90 L231.76,171.83 L232.08,172.75 L232.41,173.67 L232.74,174.59 L233.06,175.51 L233.40,176.43 L233.73,177.35 L234.07,178.27 L234.41,179.19 L234.75,180.11 L235.09,181.03 L235.44,181.94 L235.79,182.86 L236.14,183.77 L236.49,184.69 L236.85,185.60 L237.21,186.51 L237.58,187.42 L237.94,188.33 L238.31,189.24 L238.69,190.14 L239.06,191.05 L239.44,191.95 L239.82,192.85 L240.21,193.76 L240.60,194.65 L240.99,195.55 L241.39,196.45 L241.78,197.34 L242.19,198.24 L242.59,199.13 L243.00,200.02 L243.41,200.91 L243.83,201.79 L244.25,202.68 L244.67,203.56 L245.10,204.44 L245.53,205.32 L245.97,206.20 L246.40,207.07 L246.85,207.94 L247.29,208.81 L247.74,209.68 L248.20,210.55 L248.66,211.41 L249.12,212.27 L249.59,213.13 L250.06,213.99 L250.53,214.84 L251.01,215.69 L251.50,216.54 L251.98,217.39 L252.48,218.23 L252.97,219.07 L253.47,219.91 L253.98,220.74 L254.49,221.58 L255.00,222.41 L255.52,223.23 L256.05,224.06 L256.58,224.88 L257.11,225.69 L257.65,226.51 L258.19,227.32 L258.74,228.13 L259.29,228.93 L259.85,229.73 L260.41,230.53 L260.98,231.33 L261.56,232.12 L262.13,232.90 L262.72,233.69 L263.31,234.47 L263.90,235.25 L264.50,236.02 L265.10,236.79 L265.71,237.55 L266.33,238.31 L266.95,239.07 L267.58,239.82 L268.21,240.57 L268.84,241.31 L269.49,242.05 L270.14,242.78 L270.79,243.50 L271.45,244.22 L272.12,244.94 L272.79,245.65 L273.46,246.35 L274.15,247.04 L274.84,247.73 L275.53,248.42 L276.23,249.09 L276.94,249.76 L277.65,250.43 L278.37,251.08 L279.10,251.73 L279.83,252.37 L280.57,253.01 L281.31,253.63 L282.06,254.25 L282.81,254.86 L283.57,255.46 L284.34,256.06 L285.11,256.65 L285.89,257.22 L286.67,257.79 L287.46,258.36 L288.26,258.91 L289.06,259.46 L289.86,259.99 L290.67,260.52 L291.49,261.04 L292.31,261.55 L293.13,262.05 L293.96,262.54 L294.80,263.02 L295.64,263.50 L296.48,263.96 L297.33,264.41 L298.19,264.86 L299.05,265.29 L299.91,265.72 L300.78,266.13 L301.65,266.54 L302.53,266.93 L303.41,267.32 L304.29,267.69 L305.18,268.06 L306.08,268.42 L306.98,268.76 L307.88,269.10 L308.78,269.43 L309.69,269.75 L310.60,270.05 L311.52,270.35 L312.44,270.65 L313.36,270.93 L314.29,271.20 L315.22,271.46 L316.15,271.72 L317.08,271.97 L318.02,272.21 L318.96,272.44 L319.91,272.66 L320.85,272.87 L321.80,273.08 L322.75,273.27 L323.71,273.46 L324.67,273.64 L325.62,273.82 L326.59,273.98 L327.55,274.14 L328.51,274.29 L329.48,274.43 L330.45,274.57 L331.42,274.70 L332.39,274.82 L333.37,274.93 L334.34,275.04 L335.32,275.14 L336.30,275.23 L337.28,275.31 L338.26,275.39 L339.24,275.47 L340.22,275.53 L341.20,275.59 L342.19,275.64 L343.17,275.69 L344.16,275.73 L345.15,275.77 L346.13,275.79 L347.12,275.82 L348.11,275.83 L349.10,275.84 L350.08,275.85 L351.07,275.85 L352.06,275.84 L353.05,275.83 L354.04,275.81 L355.02,275.79 L356.01,275.76 L357.00,275.73 L357.98,275.69 L358.97,275.65 L359.95,275.60 L360.94,275.55 L361.92,275.49 L362.90,275.43 L363.89,275.37 L364.87,275.30 L365.85,275.22 L366.83,275.14 L367.80,275.06 L368.78,274.98 L369.76,274.88 L370.73,274.79 L371.71,274.69 L372.68,274.59 L373.65,274.49 L374.63,274.38 L375.60,274.27 L376.57,274.15 L377.54,274.03 L378.51,273.91 L379.48,273.79 L380.45,273.66 L381.41,273.53 L382.38,273.40 L383.35,273.27 L384.31,273.13 L385.28,272.99 L386.24,272.85 L387.21,272.71 L388.17,272.56 L389.14,272.42 L390.10,272.27 L391.06,272.12 L392.03,271.97 L392.99,271.82 L393.95,271.66 L394.91,271.51 L395.87,271.35 L396.83,271.19 L397.80,271.04 L398.76,270.88 L399.72,270.72 L400.68,270.56 L401.64,270.40 L402.60,270.23 L403.56,270.07 L404.52,269.91 L405.48,269.75 L406.44,269.59 L407.40,269.43 L408.36,269.27 L409.32,269.11 L410.28,268.95 L411.24,268.79 L412.20,268.63 L413.16,268.47 L414.12,268.31 L415.08,268.15 L416.04,268.00 L417.00,267.84 L417.96,267.69 L418.92,267.54 L419.88,267.39 L420.84,267.24 L421.80,267.09 L422.77,266.95 L423.73,266.80 L424.69,266.66 L425.65,266.52 L426.62,266.38 L427.58,266.24 L428.54,266.10 L429.51,265.97 L430.47,265.83 L431.44,265.70 L432.40,265.57 L433.37,265.44 L434.33,265.31 L435.30,265.18 L436.26,265.05 L437.23,264.93 L438.19,264.80 L439.16,264.68 L440.12,264.56 L441.09,264.44 L442.06,264.32 L443.02,264.20 L443.99,264.09 L444.96,263.97 L445.93,263.86 L446.89,263.74 L447.86,263.63 L448.83,263.52 L449.80,263.41 L450.77,263.31 L451.73,263.20 L452.70,263.09 L453.67,262.99 L454.64,262.89 L455.61,262.78 L456.58,262.68 L457.55,262.58 L458.52,262.48 L459.49,262.39 L460.46,262.29 L461.43,262.19 L462.40,262.10 L463.37,262.01 L464.34,261.91 L465.31,261.82 L466.28,261.73 L467.25,261.64 L468.22,261.56 L469.20,261.47 L470.17,261.38 L471.14,261.30 L472.11,261.21 L473.08,261.13 L474.05,261.05 L475.03,260.97 L476.00,260.89 L476.97,260.81 L477.94,260.73 L478.92,260.65 L479.89,260.58 L480.86,260.50 L481.84,260.43 L482.81,260.35 L483.78,260.28 L484.76,260.21 L485.73,260.14 L486.70,260.06 L487.68,260.00 L488.65,259.93 L489.63,259.86 L490.60,259.79 L491.57,259.73 L492.55,259.66 L493.52,259.60 L494.50,259.53 L495.47,259.47 L496.45,259.41 L497.42,259.35 L498.40,259.29 L499.37,259.23 L500.35,259.17 L501.32,259.11 L502.30,259.05 L503.27,258.99 L504.25,258.94 L505.22,258.88 L506.20,258.83 L507.17,258.77 L508.15,258.72 L509.13,258.67 L510.10,258.61 L511.08,258.56 L512.05,258.51 L513.03,258.46 L514.01,258.41 L514.98,258.36 L515.96,258.31 L516.93,258.26 L517.91,258.22 L518.89,258.17 L519.86,258.12 L520.84,258.08 L521.82,258.03 L522.79,257.99 L523.77,257.94 L524.74,257.90 L525.72,257.86 L526.70,257.82 L527.67,257.77 L528.65,257.73 L529.63,257.69 L530.60,257.65 L531.58,257.61 L532.56,257.57 L533.53,257.53 L534.51,257.49 L535.49,257.45 L536.46,257.42 L537.44,257.38 L538.42,257.34 L539.39,257.30 L540.37,257.27 L541.35,257.23 L542.32,257.19 L543.30,257.16 L544.28,257.12 L545.26,257.09 L546.23,257.06 L547.21,257.02 L548.19,256.99 L549.16,256.95 L550.14,256.92 L551.11,256.89 L552.09,256.85 L553.07,256.82 L554.04,256.79 L555.02,256.76 L556.00,256.73 L556.97,256.70 L557.95,256.66 L558.93,256.63 L559.90,256.60 L560.88,256.57 L561.86,256.54 L562.83,256.51 L563.81,256.48 L564.78,256.45 L565.76,256.42 L566.74,256.39 L567.71,256.36 L568.69,256.33 L569.66,256.30 L570.64,256.27 L571.61,256.25 L572.59,256.22 L573.57,256.19 L574.54,256.16 L575.52,256.13 L576.49,256.10 L577.47,256.07 L578.44,256.04 L579.42,256.02 L580.39,255.99 L581.37,255.96 L582.34,255.93 L583.32,255.90 L584.29,255.87 L585.27,255.84 L586.24,255.81 L587.22,255.79 L588.19,255.76 L589.16,255.73 L590.14,255.70 L591.11,255.67 L592.09,255.64 L593.06,255.61 L594.03,255.58 L595.01,255.55 L595.98,255.52 L596.95,255.49 L597.93,255.46 L598.90,255.43 L599.87,255.40 L600.85,255.37 L601.82,255.34 L602.79,255.31 L603.76,255.28 L604.74,255.25 L605.71,255.22 L606.68,255.19 L607.65,255.16 L608.62,255.13 L609.60,255.09 L610.57,255.06 L611.54,255.03 L612.51,255.00 L613.48,254.96 L614.45,254.93 L615.42,254.89 L616.39,254.86 L617.36,254.83" fill="none" stroke="#dd181f" stroke-width="4.4" stroke-dasharray="52,18.2,8.4,18.1,8.4,18.1" stroke-dashoffset="78.55"/>
<path d="M198.25,29.97 L198.40,30.94 L198.55,31.92 L198.70,32.89 L198.84,33.86 L198.99,34.84 L199.14,35.81 L199.29,36.78 L199.43,37.76 L199.58,38.73 L199.73,39.70 L199.88,40.68 L200.03,41.65 L200.18,42.62 L200.32,43.59 L200.47,44.57 L200.62,45.54 L200.77,46.51 L200.92,47.49 L201.07,48.46 L201.22,49.43 L201.37,50.41 L201.52,51.38 L201.67,52.35 L201.83,53.33 L201.98,54.30 L202.13,55.27 L202.28,56.25 L202.43,57.22 L202.59,58.19 L202.74,59.16 L202.90,60.14 L203.05,61.11 L203.21,62.08 L203.36,63.05 L203.52,64.02 L203.68,65.00 L203.83,65.97 L203.99,66.94 L204.15,67.91 L204.31,68.88 L204.47,69.86 L204.63,70.83 L204.79,71.80 L204.95,72.77 L205.11,73.74 L205.28,74.71 L205.44,75.68 L205.61,76.65 L205.77,77.62 L205.94,78.59 L206.10,79.56 L206.27,80.53 L206.44,81.50 L206.61,82.47 L206.78,83.44 L206.95,84.41 L207.12,85.38 L207.30,86.34 L207.47,87.31 L207.64,88.28 L207.82,89.25 L207.99,90.22 L208.17,91.18 L208.35,92.15 L208.53,93.12 L208.71,94.08 L208.89,95.05 L209.07,96.02 L209.26,96.98 L209.44,97.95 L209.63,98.91 L209.81,99.88 L210.00,100.84 L210.19,101.81 L210.38,102.77 L210.57,103.74 L210.76,104.70 L210.96,105.66 L211.15,106.63 L211.35,107.59 L211.54,108.55 L211.74,109.51 L211.94,110.48 L212.14,111.44 L212.35,112.40 L212.55,113.36 L212.75,114.32 L212.96,115.28 L213.17,116.24 L213.38,117.20 L213.59,118.16 L213.80,119.12 L214.01,120.07 L214.23,121.03 L214.44,121.99 L214.66,122.95 L214.88,123.90 L215.10,124.86 L215.32,125.82 L215.55,126.77 L215.77,127.73 L216.00,128.68 L216.23,129.64 L216.46,130.59 L216.69,131.54 L216.92,132.50 L217.16,133.45 L217.39,134.40 L217.63,135.35 L217.87,136.30 L218.11,137.25 L218.35,138.20 L218.60,139.15 L218.85,140.10 L219.09,141.05 L219.34,142.00 L219.60,142.95 L219.85,143.90 L220.11,144.84 L220.36,145.79 L220.62,146.74 L220.88,147.68 L221.15,148.63 L221.41,149.57 L221.68,150.52 L221.95,151.46 L222.22,152.40 L222.49,153.34 L222.77,154.29 L223.04,155.23 L223.32,156.17 L223.60,157.11 L223.89,158.05 L224.17,158.99 L224.46,159.92 L224.75,160.86 L225.04,161.80 L225.33,162.74 L225.63,163.67 L225.92,164.61 L226.22,165.54 L226.53,166.48 L226.83,167.41 L227.14,168.34 L227.45,169.28 L227.76,170.21 L228.07,171.14 L228.38,172.07 L228.70,173.00 L229.02,173.93 L229.34,174.86 L229.67,175.79 L230.00,176.72 L230.33,177.64 L230.66,178.57 L230.99,179.49 L231.33,180.42 L231.67,181.34 L232.01,182.27 L232.35,183.19 L232.70,184.11 L233.05,185.03 L233.40,185.95 L233.75,186.87 L234.11,187.79 L234.47,188.71 L234.83,189.63 L235.19,190.55 L235.56,191.46 L235.93,192.38 L236.30,193.29 L236.68,194.21 L237.05,195.12 L237.43,196.03 L237.82,196.95 L238.20,197.86 L238.59,198.77 L238.98,199.68 L239.38,200.58 L239.77,201.49 L240.17,202.40 L240.58,203.30 L240.99,204.20 L241.40,205.10 L241.81,206.00 L242.23,206.90 L242.65,207.80 L243.07,208.69 L243.50,209.58 L243.93,210.47 L244.37,211.36 L244.81,212.25 L245.25,213.13 L245.70,214.01 L246.15,214.89 L246.61,215.77 L247.07,216.64 L247.53,217.51 L248.00,218.38 L248.48,219.24 L248.95,220.10 L249.44,220.96 L249.93,221.82 L250.42,222.67 L250.92,223.52 L251.42,224.36 L251.93,225.20 L252.44,226.04 L252.96,226.87 L253.48,227.70 L254.01,228.53 L254.54,229.35 L255.08,230.17 L255.62,230.98 L256.17,231.79 L256.73,232.60 L257.29,233.40 L257.86,234.20 L258.43,234.99 L259.01,235.77 L259.59,236.56 L260.19,237.33 L260.78,238.11 L261.39,238.87 L262.00,239.64 L262.61,240.39 L263.23,241.15 L263.86,241.89 L264.50,242.63 L265.14,243.37 L265.79,244.10 L266.45,244.82 L267.11,245.54 L267.78,246.25 L268.46,246.96 L269.14,247.66 L269.83,248.35 L270.53,249.04 L271.23,249.72 L271.94,250.39 L272.66,251.06 L273.39,251.72 L274.12,252.38 L274.86,253.02 L275.60,253.66 L276.35,254.29 L277.11,254.92 L277.87,255.53 L278.64,256.14 L279.42,256.74 L280.20,257.33 L280.99,257.92 L281.78,258.49 L282.58,259.06 L283.39,259.62 L284.20,260.16 L285.02,260.71 L285.85,261.24 L286.68,261.76 L287.51,262.27 L288.35,262.77 L289.20,263.27 L290.05,263.75 L290.91,264.23 L291.77,264.69 L292.64,265.14 L293.52,265.59 L294.39,266.02 L295.28,266.44 L296.17,266.85 L297.06,267.25 L297.96,267.64 L298.87,268.02 L299.78,268.39 L300.69,268.75 L301.61,269.09 L302.53,269.43 L303.46,269.75 L304.39,270.07 L305.33,270.37 L306.27,270.66 L307.21,270.95 L308.16,271.22 L309.11,271.48 L310.06,271.73 L311.02,271.98 L311.98,272.21 L312.94,272.44 L313.90,272.65 L314.87,272.86 L315.84,273.06 L316.81,273.25 L317.78,273.43 L318.76,273.60 L319.73,273.76 L320.71,273.92 L321.69,274.06 L322.67,274.20 L323.65,274.33 L324.63,274.46 L325.61,274.57 L326.60,274.68 L327.58,274.78 L328.57,274.87 L329.55,274.96 L330.53,275.04 L331.52,275.11 L332.50,275.18 L333.48,275.24 L334.46,275.29 L335.45,275.34 L336.43,275.38 L337.41,275.41 L338.39,275.44 L339.37,275.46 L340.36,275.48 L341.34,275.49 L342.32,275.50 L343.30,275.50 L344.28,275.49 L345.26,275.48 L346.24,275.46 L347.22,275.44 L348.20,275.41 L349.18,275.38 L350.16,275.35 L351.14,275.31 L352.12,275.26 L353.10,275.21 L354.08,275.16 L355.06,275.10 L356.04,275.04 L357.01,274.97 L357.99,274.90 L358.97,274.83 L359.95,274.75 L360.93,274.67 L361.91,274.58 L362.88,274.49 L363.86,274.40 L364.84,274.31 L365.81,274.21 L366.79,274.11 L367.77,274.01 L368.75,273.90 L369.72,273.79 L370.70,273.68 L371.67,273.57 L372.65,273.45 L373.63,273.33 L374.60,273.22 L375.58,273.09 L376.55,272.97 L377.53,272.84 L378.51,272.72 L379.48,272.59 L380.46,272.46 L381.43,272.33 L382.41,272.19 L383.38,272.06 L384.36,271.93 L385.33,271.79 L386.30,271.66 L387.28,271.52 L388.25,271.38 L389.23,271.24 L390.20,271.10 L391.18,270.97 L392.15,270.83 L393.12,270.69 L394.10,270.55 L395.07,270.41 L396.04,270.27 L397.02,270.12 L397.99,269.98 L398.96,269.84 L399.94,269.70 L400.91,269.56 L401.88,269.42 L402.86,269.27 L403.83,269.13 L404.80,268.99 L405.78,268.84 L406.75,268.70 L407.72,268.56 L408.69,268.42 L409.67,268.27 L410.64,268.13 L411.61,267.99 L412.58,267.84 L413.56,267.70 L414.53,267.56 L415.50,267.41 L416.48,267.27 L417.45,267.13 L418.42,266.99 L419.39,266.84 L420.37,266.70 L421.34,266.56 L422.31,266.42 L423.28,266.28 L424.26,266.14 L425.23,266.00 L426.20,265.86 L427.17,265.72 L428.15,265.58 L429.12,265.44 L430.09,265.30 L431.06,265.16 L432.04,265.03 L433.01,264.89 L433.98,264.75 L434.96,264.62 L435.93,264.48 L436.90,264.35 L437.88,264.21 L438.85,264.08 L439.82,263.95 L440.79,263.82 L441.77,263.68 L442.74,263.55 L443.72,263.42 L444.69,263.30 L445.66,263.17 L446.64,263.04 L447.61,262.91 L448.58,262.79 L449.56,262.66 L450.53,262.54 L451.51,262.42 L452.48,262.30 L453.46,262.18 L454.43,262.06 L455.40,261.94 L456.38,261.82 L457.35,261.70 L458.33,261.59 L459.30,261.47 L460.28,261.36 L461.26,261.25 L462.23,261.14 L463.21,261.03 L464.18,260.92 L465.16,260.81 L466.14,260.71 L467.11,260.60 L468.09,260.50 L469.06,260.40 L470.04,260.30 L471.02,260.20 L472.00,260.10 L472.97,260.01 L473.95,259.91 L474.93,259.82 L475.91,259.73 L476.88,259.64 L477.86,259.55 L478.84,259.47 L479.82,259.38 L480.80,259.30 L481.78,259.21 L482.76,259.13 L483.74,259.05 L484.72,258.98 L485.70,258.90 L486.68,258.82 L487.66,258.75 L488.64,258.68 L489.62,258.60 L490.60,258.53 L491.58,258.47 L492.56,258.40 L493.54,258.33 L494.52,258.27 L495.50,258.20 L496.48,258.14 L497.46,258.08 L498.44,258.02 L499.43,257.96 L500.41,257.90 L501.39,257.84 L502.37,257.78 L503.35,257.73 L504.34,257.68 L505.32,257.62 L506.30,257.57 L507.28,257.52 L508.27,257.47 L509.25,257.42 L510.23,257.37 L511.21,257.32 L512.20,257.28 L513.18,257.23 L514.16,257.19 L515.15,257.14 L516.13,257.10 L517.11,257.06 L518.10,257.02 L519.08,256.98 L520.06,256.94 L521.05,256.90 L522.03,256.86 L523.02,256.82 L524.00,256.79 L524.98,256.75 L525.97,256.71 L526.95,256.68 L527.94,256.65 L528.92,256.61 L529.90,256.58 L530.89,256.55 L531.87,256.52 L532.86,256.48 L533.84,256.45 L534.83,256.42 L535.81,256.39 L536.80,256.36 L537.78,256.34 L538.76,256.31 L539.75,256.28 L540.73,256.25 L541.72,256.23 L542.70,256.20 L543.69,256.17 L544.67,256.15 L545.66,256.12 L546.64,256.10 L547.63,256.07 L548.61,256.05 L549.59,256.02 L550.58,256.00 L551.56,255.98 L552.55,255.95 L553.53,255.93 L554.52,255.91 L555.50,255.88 L556.49,255.86 L557.47,255.84 L558.46,255.82 L559.44,255.79 L560.42,255.77 L561.41,255.75 L562.39,255.73 L563.38,255.70 L564.36,255.68 L565.35,255.66 L566.33,255.64 L567.31,255.62 L568.30,255.59 L569.28,255.57 L570.27,255.55 L571.25,255.53 L572.23,255.50 L573.22,255.48 L574.20,255.46 L575.18,255.44 L576.17,255.41 L577.15,255.39 L578.13,255.37 L579.12,255.34 L580.10,255.32 L581.08,255.29 L582.07,255.27 L583.05,255.24 L584.03,255.22 L585.02,255.19 L586.00,255.17 L586.98,255.14 L587.96,255.12 L588.95,255.09 L589.93,255.06 L590.91,255.03 L591.89,255.00 L592.87,254.98 L593.85,254.95 L594.84,254.92 L595.82,254.89 L596.80,254.86 L597.78,254.83 L598.76,254.79 L599.74,254.76 L600.72,254.73 L601.70,254.69 L602.68,254.66 L603.66,254.62 L604.64,254.59 L605.62,254.55 L606.60,254.52 L607.58,254.48 L608.56,254.44 L609.54,254.40 L610.52,254.36 L611.50,254.32 L612.48,254.28 L613.46,254.24 L614.44,254.19 L615.42,254.15 L616.39,254.10 L617.37,254.06" fill="none" stroke="#000000" stroke-width="3.0"/>
</g>
<rect x="501" y="50" width="110.5" height="136" fill="#fff"/>
<rect x="102.55" y="46.5" width="514.85" height="329.85" fill="none" stroke="#000" stroke-width="1.1"/>
<g fill="#000">
<text transform="translate(360,26) scale(0.934,1)" text-anchor="middle" font-family="'Liberation Sans', sans-serif" font-size="23">b) HAL QCD at t/a=12</text>
<text transform="translate(396.6,433) scale(1.043,1)" text-anchor="middle" font-family="'Liberation Serif', serif" font-size="37.6">r [fm]</text>
<text transform="translate(35.9,211.5) rotate(-90) scale(1.043,1)" text-anchor="middle" font-family="'Liberation Serif', serif" font-size="37.6">V(r) [MeV]</text>
<text transform="translate(102.6,397) scale(0.975,1)" text-anchor="middle" font-family="'Liberation Sans', sans-serif" font-weight="bold" font-size="23" stroke="#000" stroke-width="0.3">0</text>
<text transform="translate(231.2,397) scale(0.975,1)" text-anchor="middle" font-family="'Liberation Sans', sans-serif" font-weight="bold" font-size="23" stroke="#000" stroke-width="0.3">0.5</text>
<text transform="translate(359.9,397) scale(0.975,1)" text-anchor="middle" font-family="'Liberation Sans', sans-serif" font-weight="bold" font-size="23" stroke="#000" stroke-width="0.3">1</text>
<text transform="translate(488.6,397) scale(0.975,1)" text-anchor="middle" font-family="'Liberation Sans', sans-serif" font-weight="bold" font-size="23" stroke="#000" stroke-width="0.3">1.5</text>
<text transform="translate(617.2,397) scale(0.975,1)" text-anchor="middle" font-family="'Liberation Sans', sans-serif" font-weight="bold" font-size="23" stroke="#000" stroke-width="0.3">2</text>
<text transform="translate(94.3,56) scale(0.975,1)" text-anchor="end" font-family="'Liberation Sans', sans-serif" font-weight="bold" font-size="23" stroke="#000" stroke-width="0.3">125</text>
<text transform="translate(94.3,97) scale(0.975,1)" text-anchor="end" font-family="'Liberation Sans', sans-serif" font-weight="bold" font-size="23" stroke="#000" stroke-width="0.3">100</text>
<text transform="translate(94.3,138) scale(0.975,1)" text-anchor="end" font-family="'Liberation Sans', sans-serif" font-weight="bold" font-size="23" stroke="#000" stroke-width="0.3">75</text>
<text transform="translate(94.3,178) scale(0.975,1)" text-anchor="end" font-family="'Liberation Sans', sans-serif" font-weight="bold" font-size="23" stroke="#000" stroke-width="0.3">50</text>
<text transform="translate(94.3,219) scale(0.975,1)" text-anchor="end" font-family="'Liberation Sans', sans-serif" font-weight="bold" font-size="23" stroke="#000" stroke-width="0.3">25</text>
<text transform="translate(94.3,260) scale(0.975,1)" text-anchor="end" font-family="'Liberation Sans', sans-serif" font-weight="bold" font-size="23" stroke="#000" stroke-width="0.3">0</text>
<text transform="translate(94.3,301) scale(1.0,1)" text-anchor="end" font-family="'Liberation Sans', sans-serif" font-weight="bold" font-size="23" stroke="#000" stroke-width="0.3">-25</text>
<text transform="translate(94.3,342) scale(1.0,1)" text-anchor="end" font-family="'Liberation Sans', sans-serif" font-weight="bold" font-size="23" stroke="#000" stroke-width="0.3">-50</text>
<text transform="translate(94.3,383) scale(1.0,1)" text-anchor="end" font-family="'Liberation Sans', sans-serif" font-weight="bold" font-size="23" stroke="#000" stroke-width="0.3">-75</text>
<text x="541.4" y="71.7" text-anchor="end" font-family="'Liberation Serif', serif" font-size="18"><tspan font-size="14" dy="-8.5" dx="-0.3">11</tspan><tspan dy="8.5" dx="0.3">S</tspan><tspan font-size="14.4" dy="4.9">0</tspan></text>
<text x="541.4" y="98.2" text-anchor="end" font-family="'Liberation Serif', serif" font-size="18"><tspan font-size="14" dy="-8.5" dx="-0.3">31</tspan><tspan dy="8.5" dx="0.3">S</tspan><tspan font-size="14.4" dy="4.9">0</tspan></text>
<text x="541.4" y="124.8" text-anchor="end" font-family="'Liberation Serif', serif" font-size="18"><tspan font-size="14" dy="-8.5" dx="-0.3">13</tspan><tspan dy="8.5" dx="0.3">S</tspan><tspan font-size="14.4" dy="4.9">1</tspan></text>
<text x="541.4" y="151.6" text-anchor="end" font-family="'Liberation Serif', serif" font-size="18"><tspan font-size="14" dy="-8.5" dx="-0.3">33</tspan><tspan dy="8.5" dx="0.3">S</tspan><tspan font-size="14.4" dy="4.9">1</tspan></text>
<text x="540.2" y="177.7" text-anchor="end" font-family="'Liberation Serif', serif" font-size="17.6">Vbar</text>
<line x1="550.9" y1="65.3" x2="569.0" y2="65.3" stroke="#8b008b" stroke-width="4.4"/><line x1="595.3" y1="65.3" x2="599.5" y2="65.3" stroke="#8b008b" stroke-width="4.4"/>
<line x1="550.9" y1="91.89999999999999" x2="559.9" y2="91.89999999999999" stroke="#0060ad" stroke-width="4.4"/><line x1="573.2" y1="91.89999999999999" x2="582.0" y2="91.89999999999999" stroke="#0060ad" stroke-width="4.4"/><line x1="595.3" y1="91.89999999999999" x2="599.5" y2="91.89999999999999" stroke="#0060ad" stroke-width="4.4"/>
<line x1="550.9" y1="118.4" x2="599.5" y2="118.4" stroke="#006400" stroke-width="4.4"/>
<line x1="551.1" y1="145.2" x2="560.0" y2="145.2" stroke="#dd181f" stroke-width="4.4"/><line x1="577.9" y1="145.2" x2="599.5" y2="145.2" stroke="#dd181f" stroke-width="4.4"/>
<line x1="550.9" y1="171.6" x2="599.5" y2="171.6" stroke="#000000" stroke-width="3.0"/>
</g>
</svg>
</body></html>
